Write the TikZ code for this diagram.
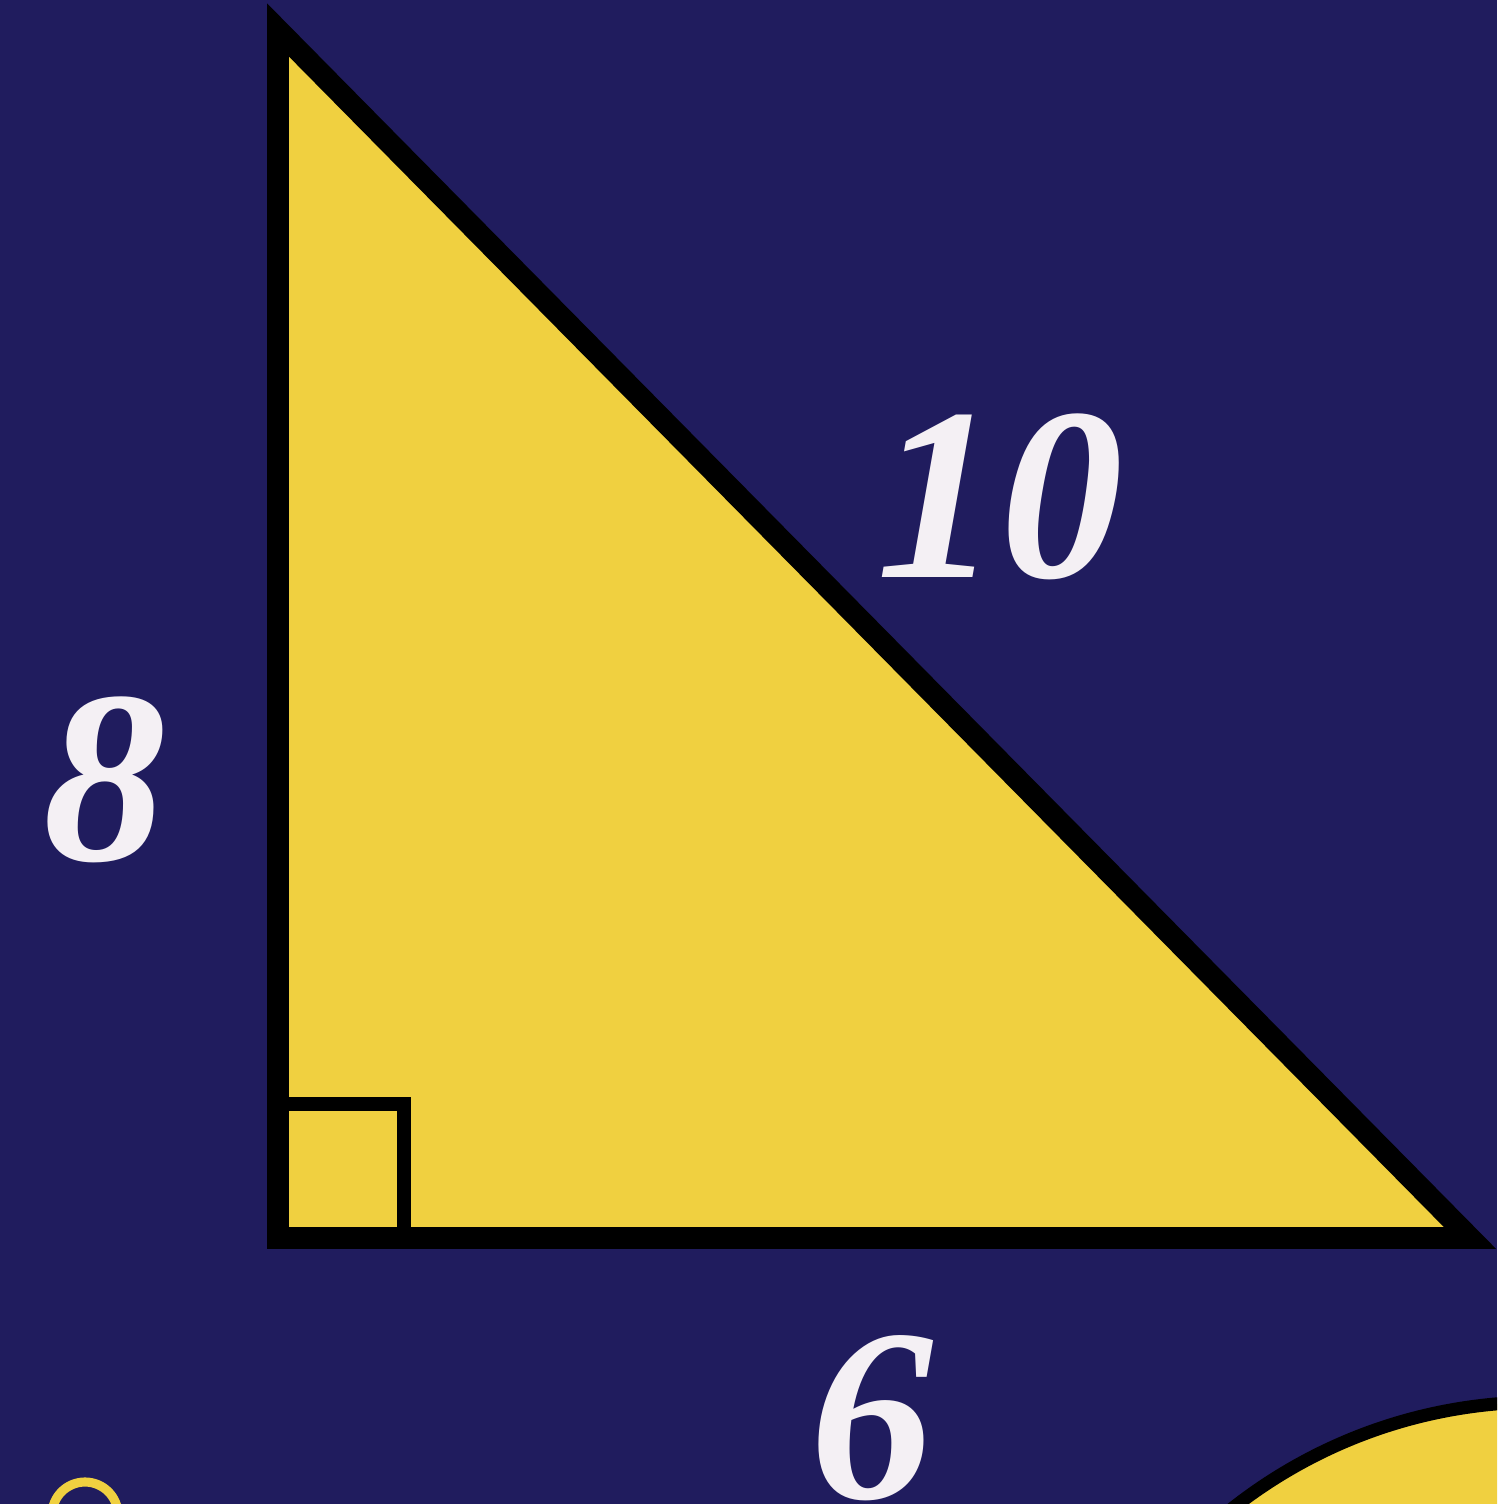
\documentclass[tikz,border=0pt]{standalone}
\usepackage{fontspec}
\setmainfont{Liberation Serif}
\usepackage{tikz}
\usetikzlibrary{positioning}
\definecolor{night}{HTML}{201C5E}
\definecolor{lemon}{HTML}{F0D040}
\definecolor{chalk}{HTML}{F4F0F4}

\begin{document}
\begin{tikzpicture}[x=0.01cm,y=-0.01cm,font=\fontsize{70}{84}\selectfont\bfseries\itshape]
\fill[night] (0,0) rectangle (1497,1504);
\useasboundingbox (0,0) rectangle (1497,1504);
\coordinate (apex) at (278,30);
\coordinate (corner) at (278,1238);
\coordinate (tip) at (1470,1238);
\fill[lemon,draw=black,line width=6.2pt,line join=miter] (apex) -- (corner) -- (tip) -- cycle;
\draw[black,line width=4.2pt] (corner) rectangle ++(126,-134);
\begin{scope}
\clip (0,0) rectangle (1497,1504);
\fill[lemon,draw=black,line width=3.7pt] (1540,1900) circle (498);
\draw[lemon,line width=2.6pt] (85,1515) circle (33);
\end{scope}
\node[text=chalk,anchor=base,inner sep=0pt] (hyp) at (1000,578) {10};
\node[text=chalk,anchor=base,inner sep=0pt] (leg) at (105,860) {8};
\node[text=chalk,anchor=base,inner sep=0pt] (base) at (872,1498) {6};
\end{tikzpicture}
\end{document}
